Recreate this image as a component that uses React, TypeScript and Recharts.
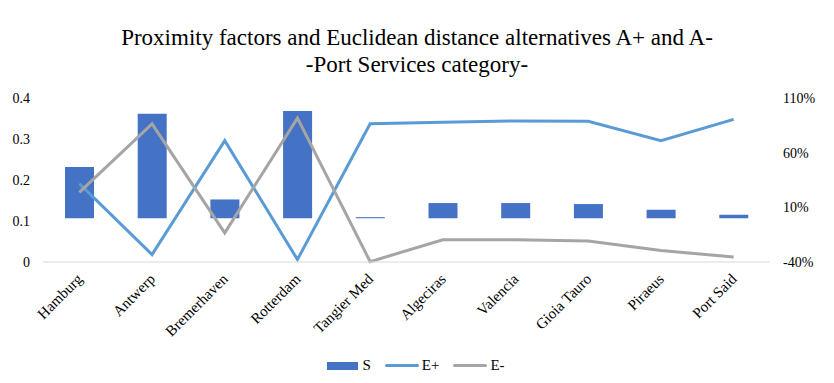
import {
  ComposedChart,
  Bar,
  Line,
  XAxis,
  YAxis,
  Legend,
} from "recharts";

const ports = [
  "Hamburg",
  "Antwerp",
  "Bremerhaven",
  "Rotterdam",
  "Tangier Med",
  "Algeciras",
  "Valencia",
  "Gioia Tauro",
  "Piraeus",
  "Port Said",
];

// S is read on the right (percent) axis, E+ / E- on the left axis
const sValues = [0.468, 0.956, 0.172, 0.98, 0.01, 0.139, 0.139, 0.13, 0.078, 0.032];
const ePlus = [0.191, 0.018, 0.296, 0.006, 0.337, 0.341, 0.344, 0.343, 0.296, 0.348];
const eMinus = [0.17, 0.337, 0.071, 0.351, 0.001, 0.054, 0.054, 0.051, 0.028, 0.012];

const leftTicks = [0, 0.1, 0.2, 0.3, 0.4];
const rightTicks = [-0.4, 0.1, 0.6, 1.1];

const data = ports.map((port, i) => ({
  port,
  S: sValues[i],
  "E+": ePlus[i],
  "E-": eMinus[i],
}));

const FONT = "Liberation Serif, DejaVu Serif, serif";

const PortTick = (props: any) => {
  const { x, y, payload } = props;
  return (
    <text
      x={x + 4}
      y={y + 10}
      transform={`rotate(-45, ${x + 4}, ${y + 10})`}
      textAnchor="end"
      fontSize={15}
      fontFamily={FONT}
      fill="#000"
    >
      {payload.value}
    </text>
  );
};

const legendItems = [
  { name: "S", color: "#4472C4", kind: "bar" },
  { name: "E+", color: "#5B9BD5", kind: "line" },
  { name: "E-", color: "#A5A5A5", kind: "line" },
];

const ChartLegend = () => (
  <div
    style={{
      display: "flex",
      justifyContent: "center",
      alignItems: "center",
      paddingTop: 8,
      paddingLeft: 12,
      fontFamily: FONT,
      fontSize: 15,
      color: "#000",
    }}
  >
    {legendItems.map((it) => (
      <div
        key={it.name}
        style={{ display: "flex", alignItems: "center", marginRight: 14 }}
      >
        {it.kind === "bar" ? (
          <span
            style={{
              display: "inline-block",
              width: 31,
              height: 8,
              background: it.color,
              marginRight: 4,
            }}
          />
        ) : (
          <span
            style={{
              display: "inline-block",
              width: 34,
              height: 3,
              borderRadius: 2,
              background: it.color,
              marginRight: 3,
            }}
          />
        )}
        <span>{it.name}</span>
      </div>
    ))}
  </div>
);

const App = () => {
  return (
    <div
      style={{
        position: "absolute",
        left: 0,
        top: 0,
        width: 834,
        height: 383,
        background: "#fff",
      }}
    >
      <div
        style={{
          position: "absolute",
          left: 0,
          top: 24,
          width: 834,
          textAlign: "center",
          fontFamily: FONT,
          fontSize: 23,
          lineHeight: "27px",
          color: "#000",
        }}
      >
        Proximity factors and Euclidean distance alternatives A+ and A-
        <br />
        -Port Services category-
      </div>
      <ComposedChart
        width={834}
        height={383}
        data={data}
        margin={{ top: 98, right: 0, left: 0, bottom: 4 }}
      >
        <XAxis
          dataKey="port"
          interval={0}
          height={87}
          tickLine={false}
          axisLine={{ stroke: "#d9d9d9" }}
          tick={<PortTick />}
        />
        <YAxis
          yAxisId="left"
          domain={[0, 0.4]}
          ticks={leftTicks}
          width={43}
          axisLine={false}
          tickLine={false}
          tickMargin={7}
          tickFormatter={(v: number) => (v === 0 ? "0" : v.toFixed(1))}
          tick={{ fontSize: 14, fontFamily: FONT, fill: "#000" }}
        />
        <YAxis
          yAxisId="right"
          orientation="right"
          domain={[-0.4, 1.1]}
          ticks={rightTicks}
          width={64}
          axisLine={false}
          tickLine={false}
          tickMargin={7}
          tickFormatter={(v: number) => `${Math.round(v * 100)}%`}
          tick={{ fontSize: 14, fontFamily: FONT, fill: "#000" }}
        />
        <Legend
          verticalAlign="bottom"
          height={30}
          content={() => <ChartLegend />}
        />
        <Bar
          yAxisId="right"
          dataKey="S"
          fill="#4472C4"
          barSize={29}
          isAnimationActive={false}
        />
        <Line
          yAxisId="left"
          type="linear"
          dataKey="E+"
          stroke="#5B9BD5"
          strokeWidth={3}
          dot={false}
          isAnimationActive={false}
        />
        <Line
          yAxisId="left"
          type="linear"
          dataKey="E-"
          stroke="#A5A5A5"
          strokeWidth={3}
          dot={false}
          isAnimationActive={false}
        />
      </ComposedChart>
    </div>
  );
};

export default App;
